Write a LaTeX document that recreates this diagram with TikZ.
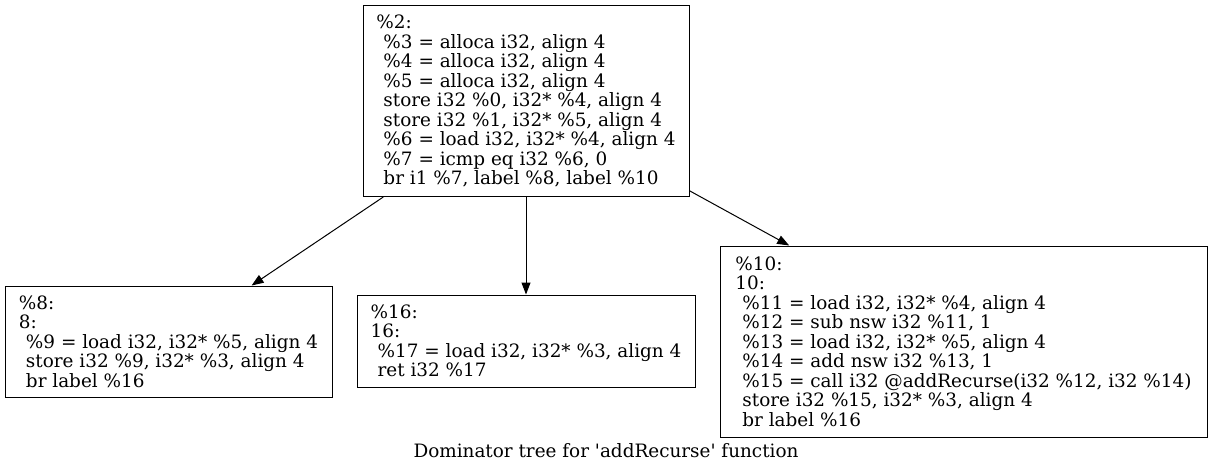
\documentclass[tikz,border=0pt]{standalone}
\usepackage{fontspec}
\setmainfont{DejaVu Serif}[Ligatures=TeXOff]
\usetikzlibrary{arrows.meta}

\tikzset{
  block/.style={draw, line width=1pt, align=left, inner xsep=11pt, inner ysep=0pt,
    font=\fontsize{18.4}{19.5}\selectfont},
  caption/.style={font=\fontsize{18.4}{19.5}\selectfont},
  edge/.style={->, line width=1pt}
}
\newcommand{\ind}{\hspace*{7pt}}

\begin{document}
\begin{tikzpicture}[x=1pt, y=-1pt, >={Triangle[length=12pt,width=9pt]}]
    \useasboundingbox (0,0) rectangle (1212,473);

    % entry block
    \node[block, minimum width=326pt, minimum height=191pt] (b2) at (526,101)
        {\%2:\\
         \ind\%3 = alloca i32, align 4\\
         \ind\%4 = alloca i32, align 4\\
         \ind\%5 = alloca i32, align 4\\
         \ind store i32 \%0, i32* \%4, align 4\\
         \ind store i32 \%1, i32* \%5, align 4\\
         \ind\%6 = load i32, i32* \%4, align 4\\
         \ind\%7 = icmp eq i32 \%6, 0\\
         \ind br i1 \%7, label \%8, label \%10};

    % children
    \node[block, minimum width=327pt, minimum height=111pt] (b8) at (168.5,341.5)
        {\%8:\\
         8:\\
         \ind\%9 = load i32, i32* \%5, align 4\\
         \ind store i32 \%9, i32* \%3, align 4\\
         \ind br label \%16};

    \node[block, minimum width=338pt, minimum height=92pt] (b16) at (526,341)
        {\%16:\\
         16:\\
         \ind\%17 = load i32, i32* \%3, align 4\\
         \ind ret i32 \%17};

    \node[block, minimum width=487pt, minimum height=191pt] (b10) at (963.5,341.5)
        {\%10:\\
         10:\\
         \ind\%11 = load i32, i32* \%4, align 4\\
         \ind\%12 = sub nsw i32 \%11, 1\\
         \ind\%13 = load i32, i32* \%5, align 4\\
         \ind\%14 = add nsw i32 \%13, 1\\
         \ind\%15 = call i32 @addRecurse(i32 \%12, i32 \%14)\\
         \ind store i32 \%15, i32* \%3, align 4\\
         \ind br label \%16};

    \draw[edge] (b2) -- (b8);
    \draw[edge] (b2) -- (b16);
    \draw[edge] (b2) -- (b10);

    \node[caption] (title) at (606,451) {Dominator tree for 'addRecurse' function};
\end{tikzpicture}
\end{document}
